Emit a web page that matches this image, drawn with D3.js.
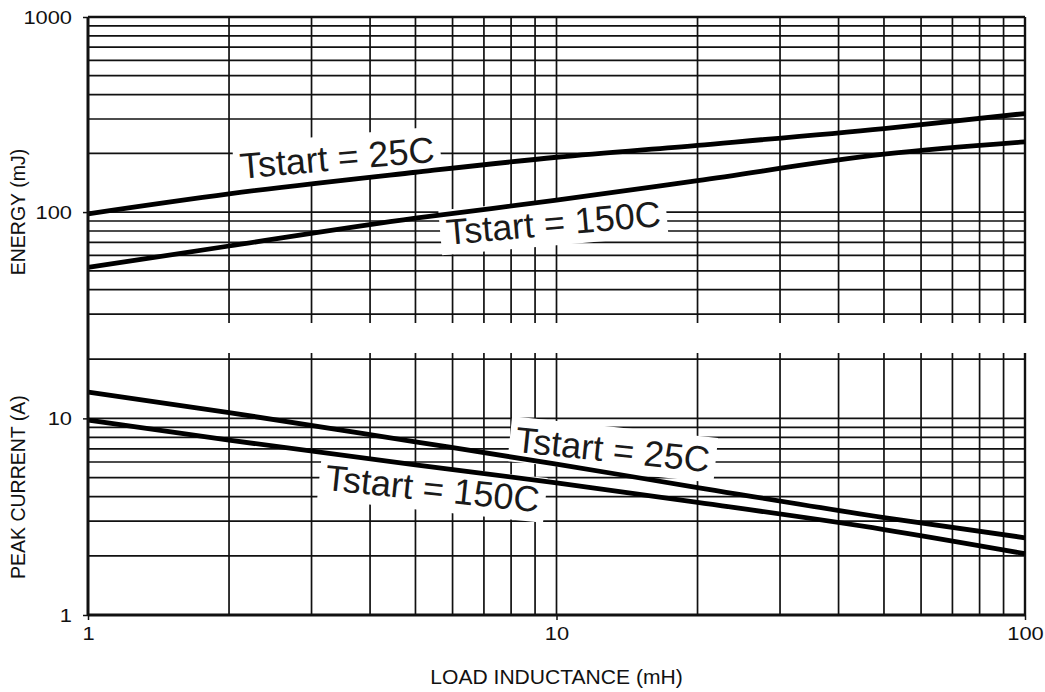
<!DOCTYPE html>
<html>
<head>
<meta charset="utf-8">
<script src="https://cdn.jsdelivr.net/npm/d3@7"></script>
<style>
  body { margin: 0; background: #fff; }
  svg { display: block; font-family: "Liberation Sans", Arial, sans-serif; }
  .grid line { stroke: #111; stroke-width: 1.7; }
  .frame { stroke: #111; stroke-width: 3; }
  .edge { stroke: #111; stroke-width: 2.4; }
  .axis path { display: none; }
  .axis line { stroke: #111; stroke-width: 1.5; }
  .axis text { font-size: 19px; fill: #111; }
  .title { font-size: 19.5px; fill: #111; }
  .curve { fill: none; stroke: #000; stroke-width: 4.8; stroke-linejoin: round; }
  .note text { font-size: 36px; fill: #1a1a1a; }
</style>
</head>
<body>
<div id="chart"></div>
<script>
// values (log-log)
var inductance = [1, 2, 5, 10, 20, 50, 100];          // mH
var energy25 = [98, 124, 160, 191, 220, 268, 320];     // mJ, Tstart = 25C
var energy150 = [52, 67, 93, 115, 145, 198, 229];      // mJ, Tstart = 150C
var current25 = [13.6, 10.7, 7.6, 5.85, 4.45, 3.13, 2.47];  // A
var current150 = [9.8, 7.75, 5.8, 4.7, 3.74, 2.72, 2.05];   // A

var xTicks = [1, 10, 100];
var energyTicks = [100, 1000];
var currentTicks = [1, 10];

// curve labels: [text, inductance, value, angle]
var energyNotes = [["Tstart = 25C", 3.42, 164, -5], ["Tstart = 150C", 9.9, 76, -5]];
var currentNotes = [["Tstart = 25C", 13.1, 6.0, 6], ["Tstart = 150C", 5.4, 3.8, 6]];

var width = 1045, height = 692;

var x = d3.scaleLog().domain([1, 100]).range([88, 1025]);
var yE = d3.scaleLog().domain([27, 1000]).range([323, 17]);
var yI = d3.scaleLog().domain([1, 21.5]).range([615, 353]);

var svg = d3.select("#chart").append("svg")
    .attr("width", width)
    .attr("height", height);

// the scan is a little wider than it is tall
function stretch(sel, k) {
  sel.each(function() {
    var len = this.getComputedTextLength();
    d3.select(this).attr("textLength", len * k).attr("lengthAdjust", "spacingAndGlyphs");
  });
}

function drawPanel(y, a, b, notes) {
  var g = svg.append("g");
  var y0 = y.range()[0], y1 = y.range()[1];
  var hTicks = y.ticks().filter(function(d) { return d >= 30 || y.domain()[0] < 2; });

  var grid = g.append("g").attr("class", "grid");
  grid.selectAll(".v").data(x.ticks()).enter().append("line")
      .attr("class", "v")
      .attr("x1", x).attr("x2", x)
      .attr("y1", y1).attr("y2", y0);
  grid.selectAll(".h").data(hTicks).enter().append("line")
      .attr("class", "h")
      .attr("x1", x.range()[0]).attr("x2", x.range()[1])
      .attr("y1", y).attr("y2", y);

  g.append("line").attr("class", "edge")
      .attr("x1", x(100)).attr("x2", x(100))
      .attr("y1", y1).attr("y2", y0);

  // white boxes go over the grid but under the curves
  var boxes = g.append("g");
  var curves = g.append("g");
  var labels = g.append("g");

  var line = d3.line()
      .x(function(d, i) { return x(inductance[i]); })
      .y(function(d) { return y(d); })
      .curve(d3.curveMonotoneX);

  curves.selectAll("path").data([a, b]).enter().append("path")
      .attr("class", "curve")
      .attr("d", line);

  var note = labels.selectAll(".note").data(notes).enter().append("g")
      .attr("class", "note")
      .attr("transform", function(d) {
        return "translate(" + x(d[1]) + "," + y(d[2]) + ") rotate(" + d[3] + ")";
      });
  note.append("text")
      .attr("text-anchor", "middle")
      .text(function(d) { return d[0]; });

  note.each(function() {
    var bb = d3.select(this).select("text").node().getBBox();
    boxes.append("rect")
        .attr("transform", d3.select(this).attr("transform"))
        .attr("x", bb.x - 6).attr("y", bb.y - 2)
        .attr("width", bb.width + 12).attr("height", bb.height + 4)
        .attr("fill", "#fff");
  });
}

drawPanel(yE, energy25, energy150, energyNotes);
drawPanel(yI, current25, current150, currentNotes);

// left axis runs through the gap between the panels
svg.append("line").attr("class", "frame")
    .attr("x1", x(1)).attr("x2", x(1))
    .attr("y1", yE.range()[1]).attr("y2", yI.range()[0]);
svg.append("line").attr("class", "frame")
    .attr("x1", x(1)).attr("x2", x(100))
    .attr("y1", yI(1)).attr("y2", yI(1));
svg.append("line").attr("class", "edge")
    .attr("x1", x(1)).attr("x2", x(100))
    .attr("y1", yE(1000)).attr("y2", yE(1000));

svg.append("g").attr("class", "axis")
    .attr("transform", "translate(" + x(1) + ",0)")
    .call(d3.axisLeft(yE).tickValues(energyTicks).tickSize(5).tickPadding(11).tickFormat(d3.format("d")));
svg.append("g").attr("class", "axis")
    .attr("transform", "translate(" + x(1) + ",0)")
    .call(d3.axisLeft(yI).tickValues(currentTicks).tickSize(5).tickPadding(11).tickFormat(d3.format("d")));
svg.append("g").attr("class", "axis")
    .attr("transform", "translate(0," + yI(1) + ")")
    .call(d3.axisBottom(x).tickValues(xTicks).tickSize(5).tickPadding(7).tickFormat(d3.format("d")));

svg.selectAll(".axis text").call(stretch, 1.15);

svg.append("text").attr("class", "title")
    .attr("transform", "translate(25," + yE(100) + ") rotate(-90)")
    .attr("text-anchor", "middle")
    .text("ENERGY (mJ)");
svg.append("text").attr("class", "title")
    .attr("transform", "translate(25," + (yI(1) + yI(20)) / 2 + ") rotate(-90)")
    .attr("text-anchor", "middle")
    .text("PEAK CURRENT (A)");
svg.append("text").attr("class", "title")
    .attr("x", x(10))
    .attr("y", 684)
    .attr("text-anchor", "middle")
    .text("LOAD INDUCTANCE (mH)")
    .call(stretch, 1.08);
</script>
</body>
</html>
